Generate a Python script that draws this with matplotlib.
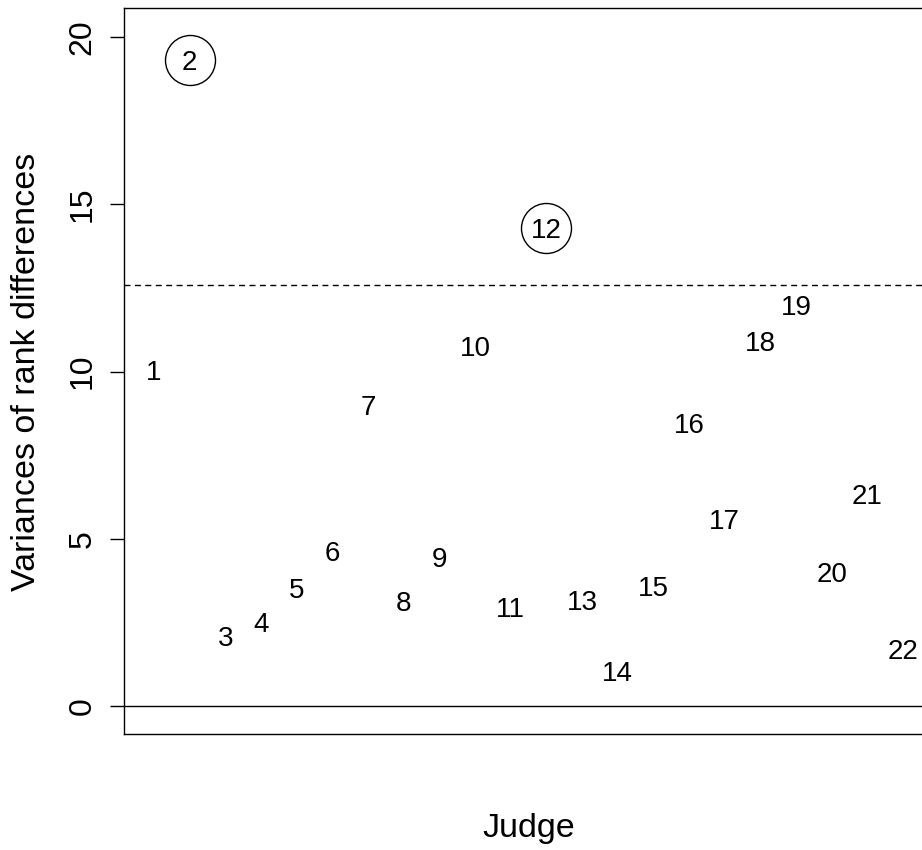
import matplotlib
matplotlib.use("Agg")
import matplotlib.pyplot as plt
import numpy as np

plt.rcParams['font.family'] = ['Liberation Sans', 'DejaVu Sans']

# Variance of rank differences per judge
judges = list(range(1, 23))
variances = [10.04, 19.31, 2.09, 2.51, 3.53, 4.63, 9.00, 3.14, 4.45, 10.76, 2.96,
             14.29, 3.17, 1.05, 3.59, 8.46, 5.59, 10.91, 11.99, 4.01, 6.34, 1.70]
flagged = [2, 12]          # judges above the threshold
threshold = 12.59
yticks = [0, 5, 10, 15, 20]

W, H = 922, 850
fig = plt.figure(figsize=(W / 100, H / 100), dpi=100)
left, right, top, bottom = 124, 933, 8, 734
ax = fig.add_axes([left / W, 1 - bottom / H, (right - left) / W, (bottom - top) / H])

ax.set_xlim(0.16, 22.84)
ax.set_ylim(-0.84, 20.87)

for j, v in zip(judges, variances):
    ax.text(j, v, str(j), ha='center', va='center_baseline', fontsize=20, color='black')

for j in flagged:
    ax.plot(j, variances[j - 1], marker='o', markersize=36, markerfacecolor='none',
            markeredgecolor='black', markeredgewidth=1.0, linestyle='none')

ax.axhline(0, color='black', linewidth=1.0)
dl = ax.axhline(threshold, color='black', linewidth=1.0)
dl.set_dashes([4.3, 3.2])

ax.set_xticks([])
ax.set_yticks(yticks)
ax.set_yticklabels([str(t) for t in yticks], rotation=90, va='center', fontsize=23)
ax.tick_params(axis='y', direction='out', length=10, width=1.0, pad=9)
for s in ax.spines.values():
    s.set_linewidth(1.0)

fig.text(27 / W, 1 - 372 / H, 'Variances of rank differences', rotation=90,
         ha='center', va='center', fontsize=24.5)
fig.text(529 / W, 1 - 829 / H, 'Judge', ha='center', va='center', fontsize=24.5)

fig.savefig('out.png', dpi=100)
